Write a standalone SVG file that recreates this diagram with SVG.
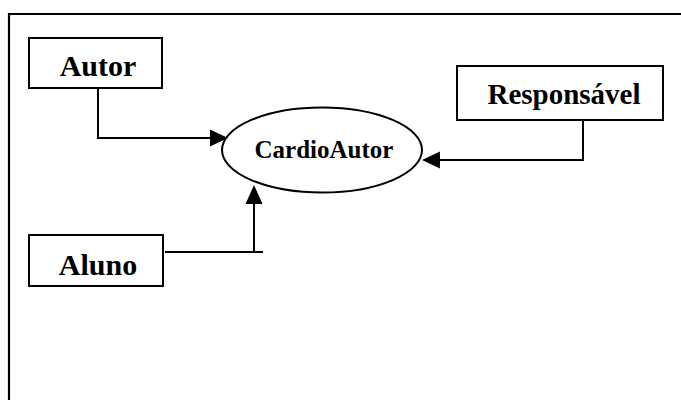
<svg xmlns="http://www.w3.org/2000/svg" width="681" height="400" viewBox="0 0 681 400">
  <style>
    .box { fill: #fff; stroke: #000; stroke-width: 2; }
    .lbl { font-family: "Liberation Serif", "Times New Roman", serif; font-weight: bold; fill: #000; text-anchor: middle; }
    .wire { fill: none; stroke: #000; stroke-width: 2; }
    .head { fill: #000; }
  </style>
  <rect width="681" height="400" fill="#fff"/>
  <!-- outer frame: top and left edges -->
  <path d="M9,400 V14 H681" fill="none" stroke="#000" stroke-width="2.2"/>

  <g id="autor">
    <rect class="box" x="29" y="38" width="133" height="50"/>
    <text class="lbl" x="98" y="76" font-size="30">Autor</text>
  </g>

  <g id="responsavel">
    <rect class="box" x="457" y="66" width="206" height="54"/>
    <text class="lbl" x="564" y="104" font-size="29">Responsável</text>
  </g>

  <g id="aluno">
    <rect class="box" x="29" y="235" width="134" height="51"/>
    <text class="lbl" x="98" y="275" font-size="30">Aluno</text>
  </g>

  <g id="cardioautor">
    <ellipse class="box" cx="322" cy="150" rx="100" ry="42.5"/>
    <text class="lbl" x="324" y="158" font-size="25">CardioAutor</text>
  </g>

  <g id="connectors">
    <!-- Autor to CardioAutor -->
    <path class="wire" d="M98,88 V138 H212"/>
    <polygon class="head" points="228,138 210,129.5 210,146.5"/>
    <!-- Responsável to CardioAutor -->
    <path class="wire" d="M583,120 V160 H438"/>
    <polygon class="head" points="422,160 440,151.5 440,168.5"/>
    <!-- Aluno to CardioAutor -->
    <path class="wire" d="M165,252 H263 M254,252 V202"/>
    <polygon class="head" points="254,185 245.5,204 262.5,204"/>
  </g>
</svg>
